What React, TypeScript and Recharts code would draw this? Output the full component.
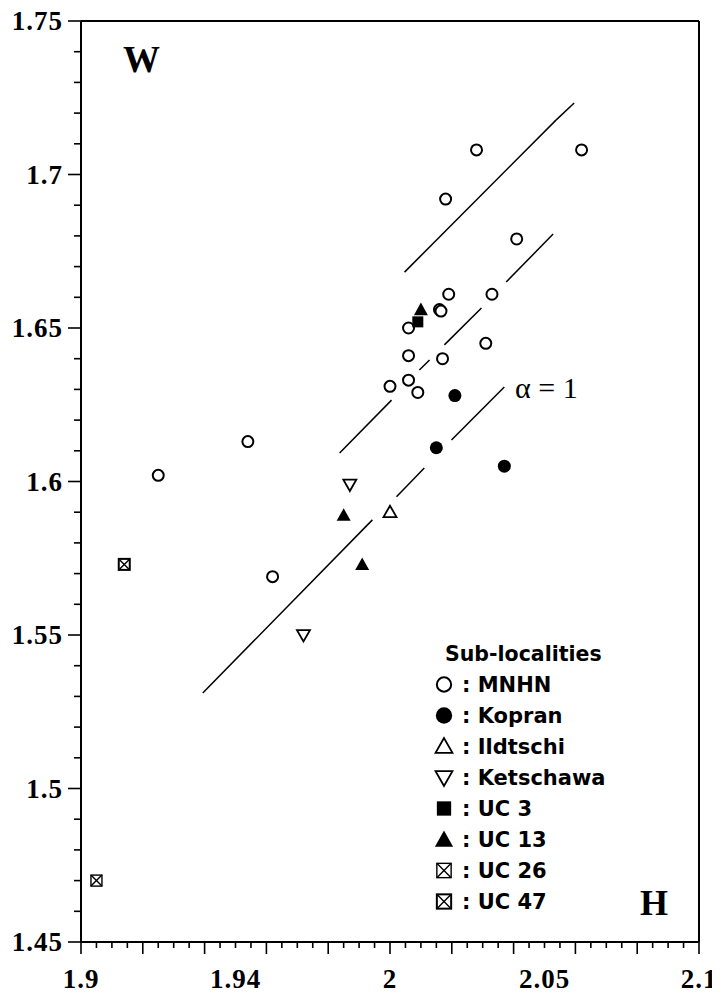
import React from 'react';
import { ScatterChart, Scatter, XAxis, YAxis, ReferenceLine } from 'recharts';

// ---- axis ticks ----
const xTicks = [1.9, 1.905, 1.91, 1.915, 1.92, 1.925, 1.93, 1.935, 1.94, 1.945, 1.95, 1.955, 1.96, 1.965, 1.97, 1.975, 1.98, 1.985, 1.99, 1.995, 2, 2.005, 2.01, 2.015, 2.02, 2.025, 2.03, 2.035, 2.04, 2.045, 2.05, 2.055, 2.06, 2.065, 2.07, 2.075, 2.08, 2.085, 2.09, 2.095, 2.1];
const xMajorTicks = [1.9, 1.92, 1.94, 1.96, 1.98, 2, 2.02, 2.04, 2.06, 2.08, 2.1];
const xLabelValues = [1.9, 1.95, 2, 2.05, 2.1];
const xLabelTexts = ['1.9', '1.94', '2', '2.05', '2.1'];

const yTicks = [1.45, 1.46, 1.47, 1.48, 1.49, 1.5, 1.51, 1.52, 1.53, 1.54, 1.55, 1.56, 1.57, 1.58, 1.59, 1.6, 1.61, 1.62, 1.63, 1.64, 1.65, 1.66, 1.67, 1.68, 1.69, 1.7, 1.71, 1.72, 1.73, 1.74, 1.75];
const yLabelValues = [1.45, 1.5, 1.55, 1.6, 1.65, 1.7, 1.75];
const yLabelTexts = ['1.45', '1.5', '1.55', '1.6', '1.65', '1.7', '1.75'];

// ---- series (H, W) ----
const mnhn = [
  [2.028, 1.708], [2.062, 1.708], [2.018, 1.692], [2.041, 1.679], [2.019, 1.661],
  [2.033, 1.661], [2.016, 1.656], [2.0165, 1.6555], [2.006, 1.65], [2.006, 1.641],
  [2.017, 1.64], [2.031, 1.645], [2.006, 1.633], [2.0, 1.631], [2.009, 1.629],
  [1.954, 1.613], [1.925, 1.602], [1.962, 1.569],
];
const kopran = [[2.021, 1.628], [2.015, 1.611], [2.037, 1.605]];
const ildtschi = [[2.0, 1.59]];
const ketschawa = [[1.987, 1.599], [1.972, 1.55]];
const uc3 = [[2.009, 1.652]];
const uc13 = [[2.010, 1.656], [1.985, 1.589], [1.991, 1.573]];
const uc26 = [[1.905, 1.47]];
const uc47 = [[1.914, 1.573]];

// ---- reference lines ----
const upperLine = [[2.0047, 1.6682], [2.0538, 1.7178], [2.0596, 1.7233]];
const middleLineSegs = [
  [1.9837, 1.6093, 2.0005, 1.6265],
  [2.0095, 1.6363, 2.0128, 1.6396],
  [2.0176, 1.6445, 2.0296, 1.6565],
  [2.0376, 1.665, 2.0528, 1.6806],
];
const lowerLineSegs = [
  [1.9394, 1.5311, 1.9943, 1.5875],
  [2.0021, 1.595, 2.0111, 1.6044],
  [2.0199, 1.6135, 2.037, 1.6308],
];

const legendNames = ['MNHN', 'Kopran', 'Ildtschi', 'Ketschawa', 'UC 3', 'UC 13', 'UC 26', 'UC 47'];
const legendKinds = ['openCircle', 'filledCircle', 'openTriUp', 'openTriDown', 'filledSquare', 'filledTriUp', 'boxXLight', 'boxX'];

const toPts = (arr: number[][]) => arr.map(([h, w]) => ({ h, w }));

const SERIF = '"Liberation Serif", "Times New Roman", serif';
const SANS = '"DejaVu Sans", "Liberation Sans", Arial, sans-serif';

const near = (a: number, b: number) => Math.abs(a - b) < 1e-6;

function Marker({ kind, cx, cy, s = 1 }: { kind: string; cx: number; cy: number; s?: number }) {
  const r = 5.5 * s;
  switch (kind) {
    case 'openCircle':
      return <circle cx={cx} cy={cy} r={r} fill="#fff" stroke="#000" strokeWidth={2} />;
    case 'filledCircle':
      return <circle cx={cx} cy={cy} r={r + 1} fill="#000" />;
    case 'openTriUp': {
      const a = 6.5 * s;
      return <polygon points={`${cx},${cy - a} ${cx - a},${cy + a * 0.75} ${cx + a},${cy + a * 0.75}`} fill="#fff" stroke="#000" strokeWidth={1.8} />;
    }
    case 'openTriDown': {
      const a = 6.5 * s;
      return <polygon points={`${cx},${cy + a} ${cx - a},${cy - a * 0.75} ${cx + a},${cy - a * 0.75}`} fill="#fff" stroke="#000" strokeWidth={1.8} />;
    }
    case 'filledTriUp': {
      const a = 7 * s;
      return <polygon points={`${cx},${cy - a} ${cx - a},${cy + a * 0.8} ${cx + a},${cy + a * 0.8}`} fill="#000" />;
    }
    case 'filledSquare': {
      const a = 5.5 * s;
      return <rect x={cx - a} y={cy - a} width={2 * a} height={2 * a} fill="#000" />;
    }
    case 'boxXLight':
    case 'boxX': {
      const a = 5.5 * s;
      const sw = kind === 'boxX' ? 2 : 1.4;
      return (
        <g>
          <rect x={cx - a} y={cy - a} width={2 * a} height={2 * a} fill="#fff" stroke="#000" strokeWidth={sw} />
          <line x1={cx - a} y1={cy - a} x2={cx + a} y2={cy + a} stroke="#000" strokeWidth={1.4} />
          <line x1={cx - a} y1={cy + a} x2={cx + a} y2={cy - a} stroke="#000" strokeWidth={1.4} />
        </g>
      );
    }
    default:
      return null;
  }
}

const shapeOf = (kind: string) => (props: any) => <Marker kind={kind} cx={props.cx} cy={props.cy} />;

const XTick = (props: any) => {
  const { x, y, payload } = props;
  const v = payload.value;
  const major = xMajorTicks.some((m) => near(m, v));
  const li = xLabelValues.findIndex((m) => near(m, v));
  return (
    <g>
      <line x1={x} y1={y} x2={x} y2={y + (major ? 12 : 6)} stroke="#000" strokeWidth={1.6} />
      {li >= 0 && (
        <text x={x} y={y + 46} textAnchor="middle" fontFamily={SERIF} fontWeight="bold" fontSize={27} letterSpacing={1} fill="#000">
          {xLabelTexts[li]}
        </text>
      )}
    </g>
  );
};

const YTick = (props: any) => {
  const { x, y, payload } = props;
  const v = payload.value;
  const li = yLabelValues.findIndex((m) => near(m, v));
  const major = li >= 0;
  return (
    <g>
      <line x1={x} y1={y} x2={x - (major ? 13 : 7)} y2={y} stroke="#000" strokeWidth={1.6} />
      {major && (
        <text x={x - 18} y={y + 9} textAnchor="end" fontFamily={SERIF} fontWeight="bold" fontSize={27} letterSpacing={1} fill="#000">
          {yLabelTexts[li]}
        </text>
      )}
    </g>
  );
};

const W = 712;
const H = 986;

export default function App() {
  return (
    <div style={{ position: 'relative', width: W, height: H }}>
      <ScatterChart width={W} height={H} margin={{ top: 13, right: 21, bottom: 0, left: 0 }}>
        <XAxis
          type="number"
          dataKey="h"
          domain={[1.9, 2.1]}
          ticks={xTicks}
          interval={0}
          tickSize={0}
          tickMargin={0}
          tick={<XTick />}
          height={52}
          axisLine={{ stroke: '#000', strokeWidth: 2 }}
        />
        <YAxis
          type="number"
          dataKey="w"
          domain={[1.45, 1.75]}
          ticks={yTicks}
          interval={0}
          tickSize={0}
          tickMargin={0}
          tick={<YTick />}
          width={73}
          axisLine={{ stroke: '#000', strokeWidth: 2 }}
        />
        <ReferenceLine y={1.75} stroke="#000" strokeWidth={2} />
        <ReferenceLine x={2.1} stroke="#000" strokeWidth={2} />
        {upperLine.slice(0, -1).map((p, i) => (
          <ReferenceLine
            key={`u${i}`}
            segment={[{ x: p[0], y: p[1] }, { x: upperLine[i + 1][0], y: upperLine[i + 1][1] }]}
            stroke="#000"
            strokeWidth={1.5}
          />
        ))}
        {middleLineSegs.map((s, i) => (
          <ReferenceLine key={`m${i}`} segment={[{ x: s[0], y: s[1] }, { x: s[2], y: s[3] }]} stroke="#000" strokeWidth={1.5} />
        ))}
        {lowerLineSegs.map((s, i) => (
          <ReferenceLine key={`l${i}`} segment={[{ x: s[0], y: s[1] }, { x: s[2], y: s[3] }]} stroke="#000" strokeWidth={1.5} />
        ))}
        <Scatter name="MNHN" data={toPts(mnhn)} shape={shapeOf('openCircle')} isAnimationActive={false} />
        <Scatter name="Kopran" data={toPts(kopran)} shape={shapeOf('filledCircle')} isAnimationActive={false} />
        <Scatter name="Ildtschi" data={toPts(ildtschi)} shape={shapeOf('openTriUp')} isAnimationActive={false} />
        <Scatter name="Ketschawa" data={toPts(ketschawa)} shape={shapeOf('openTriDown')} isAnimationActive={false} />
        <Scatter name="UC 3" data={toPts(uc3)} shape={shapeOf('filledSquare')} isAnimationActive={false} />
        <Scatter name="UC 13" data={toPts(uc13)} shape={shapeOf('filledTriUp')} isAnimationActive={false} />
        <Scatter name="UC 26" data={toPts(uc26)} shape={shapeOf('boxXLight')} isAnimationActive={false} />
        <Scatter name="UC 47" data={toPts(uc47)} shape={shapeOf('boxX')} isAnimationActive={false} />
      </ScatterChart>
      <svg width={W} height={H} style={{ position: 'absolute', left: 0, top: 0, pointerEvents: 'none' }}>
        <text x={115} y={64} fontFamily={SERIF} fontWeight="bold" fontSize={37} fill="#000">W</text>
        <text x={632} y={907} fontFamily={SERIF} fontWeight="bold" fontSize={36} fill="#000">H</text>
        <text x={507} y={390} fontFamily={SERIF} fontSize={30} fill="#000">α = 1</text>
        <text x={437} y={653} fontFamily={SANS} fontWeight="bold" fontSize={20.5} fill="#000">Sub-localities</text>
        {legendNames.map((n, i) => (
          <g key={n}>
            <Marker kind={legendKinds[i]} cx={436} cy={684 + i * 31 - 7.5} s={1.3} />
            <text x={454} y={684 + i * 31} fontFamily={SANS} fontWeight="bold" fontSize={21} fill="#000">
              {n === 'Ketschawa' ? ':  ' + n : ': ' + n}
            </text>
          </g>
        ))}
      </svg>
    </div>
  );
}
